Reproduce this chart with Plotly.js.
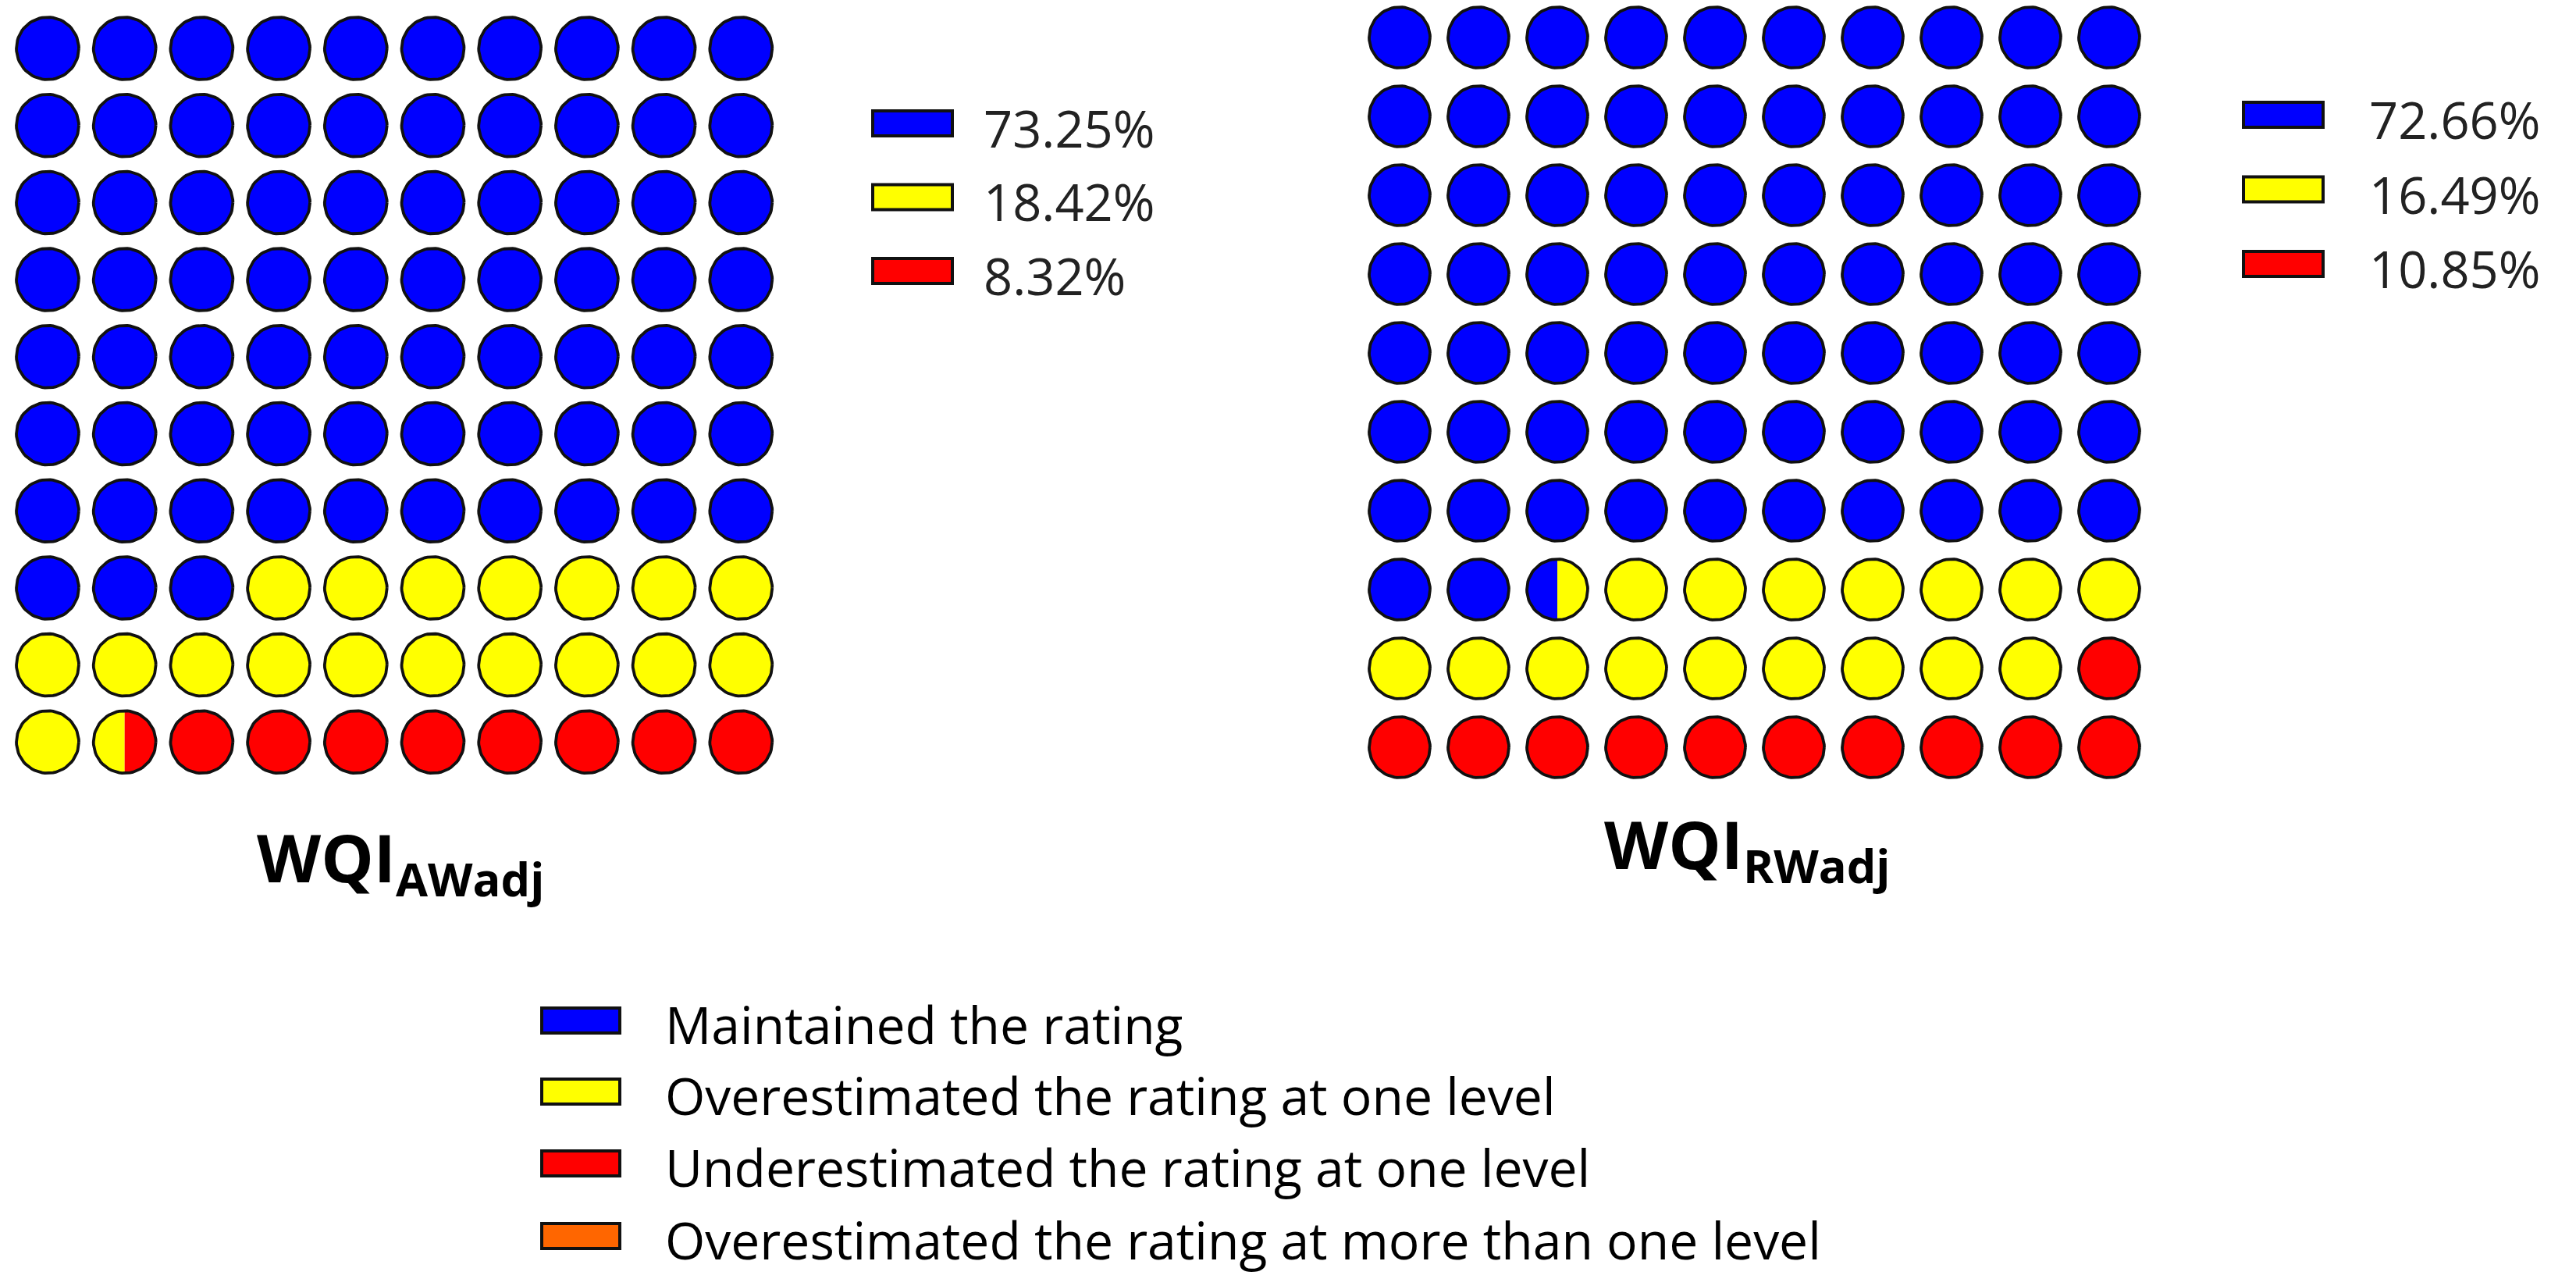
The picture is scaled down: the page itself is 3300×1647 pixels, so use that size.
<!DOCTYPE html>
<html><head><meta charset="utf-8">
<script src="https://cdn.plot.ly/plotly-3.0.1.min.js"></script>
<style>html,body{margin:0;padding:0;background:#fff;} #chart{width:3300px;height:1647px;}</style>
</head><body><div id="chart"></div>
<script>
// ---------------- data ----------------
const categories = ['Maintained the rating',
  'Overestimated the rating at one level',
  'Underestimated the rating at one level',
  'Overestimated the rating at more than one level'];
const categoryColors = ['#0000FF', '#FFFF00', '#FF0000', '#FF6600'];
const panelTitles = ['WQI<sub>AWadj</sub>', 'WQI<sub>RWadj</sub>'];
const awadjPercent = [73.25, 18.42, 8.32];
const rwadjPercent = [72.66, 16.49, 10.85];
// circles drawn per category (out of 100, half-circle resolution)
const awadjUnits = [73, 18.5, 8.5];
const rwadjUnits = [72.5, 16.5, 11];

// ---------------- layout constants ----------------
const W = 3300, H = 1647;
const FONT = '"Open Sans", "Noto Sans", sans-serif';
const panels = [
  {units: awadjUnits, pct: awadjPercent, title: panelTitles[0], cx0: 61, cy0: 62, step: 98.7, r: 0.405,
   legX: 1118, legTextX: 1258, legY0: 158, legDy: 94.5, titleX: 513, titleY: 1102, xa: 'x', ya: 'y'},
  {units: rwadjUnits, pct: rwadjPercent, title: panelTitles[1], cx0: 1793, cy0: 48, step: 101, r: 0.386,
   legX: 2874, legTextX: 3033, legY0: 147, legDy: 95.5, titleX: 2238, titleY: 1085, xa: 'x2', ya: 'y2'}
];
const NCOL = 10, NROW = 10;

function arc(cx, cy, r, a0, a1, n) {
  const xs = [], ys = [];
  for (let i = 0; i <= n; i++) {
    const a = a0 + (a1 - a0) * i / n;
    xs.push(cx + r * Math.cos(a)); ys.push(cy + r * Math.sin(a));
  }
  return [xs, ys];
}
function halfCat(units, slot) { // slot in half-circle units
  let cum = 0;
  for (let k = 0; k < units.length; k++) { cum += units[k] * 2; if (slot < cum) return k; }
  return units.length - 1;
}

const traces = [];
const layout = {
  width: W, height: H, margin: {l: 0, r: 0, t: 0, b: 0},
  paper_bgcolor: '#ffffff', plot_bgcolor: '#ffffff', showlegend: false,
  shapes: [], annotations: []
};

panels.forEach((p, pi) => {
  const full = categories.map(() => ({x: [], y: []}));
  const halves = categories.map(() => ({x: [], y: []}));
  const outline = {x: [], y: []};
  for (let i = 0; i < NCOL * NROW; i++) {
    const col = i % NCOL, row = Math.floor(i / NCOL);
    const cl = halfCat(p.units, 2 * i), cr = halfCat(p.units, 2 * i + 1);
    if (cl === cr) {
      const [xs, ys] = arc(col, row, p.r, 0, 2 * Math.PI, 72);
      full[cl].x.push(...xs, null); full[cl].y.push(...ys, null);
    } else {
      let [xs, ys] = arc(col, row, p.r, Math.PI / 2, 3 * Math.PI / 2, 36);
      halves[cl].x.push(...xs, xs[0], null); halves[cl].y.push(...ys, ys[0], null);
      [xs, ys] = arc(col, row, p.r, -Math.PI / 2, Math.PI / 2, 36);
      halves[cr].x.push(...xs, xs[0], null); halves[cr].y.push(...ys, ys[0], null);
      [xs, ys] = arc(col, row, p.r, 0, 2 * Math.PI, 72);
      outline.x.push(...xs, null); outline.y.push(...ys, null);
    }
  }
  categories.forEach((c, k) => {
    if (full[k].x.length) traces.push({type: 'scatter', mode: 'lines', x: full[k].x, y: full[k].y,
      xaxis: p.xa, yaxis: p.ya, fill: 'toself', fillcolor: categoryColors[k],
      line: {color: '#111111', width: 3.8}, hoverinfo: 'skip', name: c});
  });
  categories.forEach((c, k) => {
    if (halves[k].x.length) traces.push({type: 'scatter', mode: 'lines', x: halves[k].x, y: halves[k].y,
      xaxis: p.xa, yaxis: p.ya, fill: 'toself', fillcolor: categoryColors[k],
      line: {color: categoryColors[k], width: 0}, hoverinfo: 'skip', name: c});
  });
  if (outline.x.length) traces.push({type: 'scatter', mode: 'lines', x: outline.x, y: outline.y,
    xaxis: p.xa, yaxis: p.ya, line: {color: '#111111', width: 3.8}, hoverinfo: 'skip'});

  // axes: cell index units, same pixel size in x and y
  const xL = p.cx0 - p.step / 2, xR = p.cx0 + (NCOL - 0.5) * p.step;
  const yT = Math.max(0, p.cy0 - p.step / 2), yB = p.cy0 + (NROW - 0.5) * p.step;
  const suf = pi === 0 ? '' : '2';
  layout['xaxis' + suf] = {domain: [xL / W, xR / W], range: [-0.5, NCOL - 0.5], visible: false, fixedrange: true,
    anchor: 'y' + suf};
  layout['yaxis' + suf] = {domain: [1 - yB / H, 1 - yT / H], range: [NROW - 0.5, (yT - p.cy0) / p.step],
    visible: false, fixedrange: true, anchor: 'x' + suf};

  // percentage legend
  p.pct.forEach((v, k) => {
    const yc = p.legY0 + k * p.legDy;
    layout.shapes.push({type: 'rect', xref: 'paper', yref: 'paper',
      x0: p.legX / W, x1: (p.legX + 102) / W, y0: 1 - (yc - 16) / H, y1: 1 - (yc + 16) / H,
      fillcolor: categoryColors[k], line: {color: '#111111', width: 4}});
    layout.annotations.push({xref: 'paper', yref: 'paper', x: p.legTextX / W, y: 1 - (yc + 6) / H,
      xanchor: 'left', yanchor: 'middle', showarrow: false, text: v.toFixed(2) + '%',
      font: {family: FONT, size: 65, color: '#222222'}});
  });
  // panel title
  layout.annotations.push({xref: 'paper', yref: 'paper', x: p.titleX / W, y: 1 - p.titleY / H,
    xanchor: 'center', yanchor: 'middle', showarrow: false, text: '<b>' + p.title + '</b>',
    font: {family: FONT, size: 85, color: '#000000'}});
});

// category legend at the bottom
const catLegY = [1307, 1398, 1490, 1583];
categories.forEach((c, k) => {
  const yc = catLegY[k];
  layout.shapes.push({type: 'rect', xref: 'paper', yref: 'paper',
    x0: 694 / W, x1: 794 / W, y0: 1 - (yc - 16) / H, y1: 1 - (yc + 16) / H,
    fillcolor: categoryColors[k], line: {color: '#111111', width: 4}});
  layout.annotations.push({xref: 'paper', yref: 'paper', x: 850 / W, y: 1 - (yc + 4) / H,
    xanchor: 'left', yanchor: 'middle', showarrow: false, text: c,
    font: {family: FONT, size: 66, color: '#000000'}});
});

Plotly.newPlot('chart', traces, layout, {staticPlot: true, displayModeBar: false});
</script>
</body></html>
